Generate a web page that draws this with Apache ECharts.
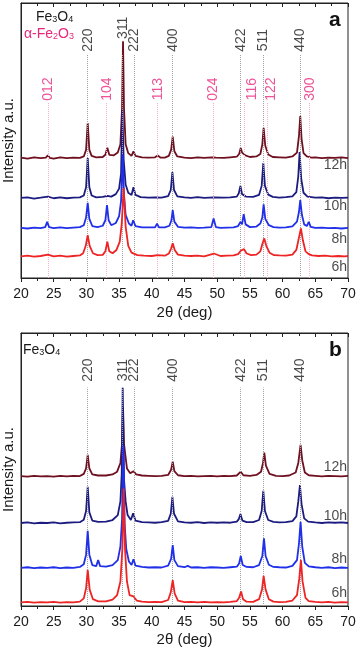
<!DOCTYPE html>
<html>
<head>
<meta charset="utf-8">
<script src="https://cdn.jsdelivr.net/npm/echarts@6/dist/echarts.min.js"></script>
<style>
html,body{margin:0;padding:0;background:#fff;}
#chart{width:358px;height:651px;}
</style>
</head>
<body>
<div id="chart"></div>
<script>
// ---------- DATA ----------
const times = ['12h', '10h', '8h', '6h'];
const xTicks = [20, 25, 30, 35, 40, 45, 50, 55, 60, 65, 70];

const fe3o4Hkl = ['220', '311', '222', '400', '422', '511', '440'];
const fe3o4Pos = [30.2, 35.55, 37.25, 43.2, 53.6, 57.05, 62.75];
const hematiteHkl = ['012', '104', '113', '024', '116', '122', '300'];
const hematitePos = [24.2, 33.1, 40.9, 49.4, 54.1, 57.6, 64.1];
const hematiteLabelPos = [24.2, 33.1, 41.0, 49.4, 55.3, 58.2, 64.2];

// panel (a): vertical offsets of each pattern (a.u.)
const offsetsA = [43.6, 29, 18, 7.7];
// panel (b)
const offsetsB = [47.4, 30.3, 13.8, 1.0];

// panel (a) patterns [2theta, intensity]
const a12h = [[20,0.2],[21,-0.2],[22,0.3],[23,0],[23.8,0.2],[24.1,1.0],[24.4,0.1],[25,-0.2],[26,0.3],[27,0],[28,0.2],[29,0.1],[29.6,0.6],[29.95,3],[30.2,12.7],[30.45,3],[30.8,0.8],[31.5,0.3],[32.5,0.4],[32.9,1.2],[33.2,3.8],[33.5,1.2],[34.2,1.0],[34.8,2],[35.2,5],[35.45,18],[35.6,42.5],[35.75,18],[36.0,5],[36.4,1.8],[36.9,0.8],[37.2,2.5],[37.5,0.8],[38.5,0.3],[39.5,0.2],[40.5,0.3],[40.9,1.0],[41.3,0.2],[42,0.2],[42.6,0.8],[42.95,3],[43.2,7.8],[43.45,2.5],[43.9,0.6],[45,0.2],[46,0],[47,0.3],[48,0.1],[49.2,0.3],[49.5,1.0],[49.8,0.2],[51,0.1],[52,0.3],[53,0.5],[53.35,1.5],[53.6,3.7],[53.8,2],[54.0,2.5],[54.3,1],[55,0.4],[56,0.6],[56.6,1.5],[56.9,5],[57.1,11],[57.35,4.5],[57.8,1.3],[58.5,0.4],[59.5,0.3],[60.5,0.2],[61.5,0.6],[62.2,2],[62.5,8],[62.7,15.3],[62.9,7],[63.2,1.8],[63.7,0.6],[64.0,1],[64.4,0.2],[65,0.3],[66,0],[67,0.2],[68,0.1],[69,0.3],[70,0]];
const a10h = [[20,0.1],[21,0.3],[22,-0.1],[23,0.2],[24.1,0.6],[25,0],[26,0.3],[27,0],[28,0.2],[29,0.3],[29.6,1],[29.95,4],[30.2,14.6],[30.45,4],[30.8,1],[31.5,0.3],[32.5,0.5],[33.2,0.9],[33.8,0.6],[34.5,1.5],[35.0,3.5],[35.3,9],[35.5,32],[35.7,14],[36.0,5],[36.4,2],[36.9,1.2],[37.2,4],[37.5,1.2],[38.3,0.4],[39.5,0.2],[40.5,0.3],[41.5,0.2],[42.5,0.8],[42.9,3],[43.15,9.5],[43.4,3],[43.9,0.7],[45,0.3],[46,0.1],[47,0.4],[48,0.1],[49.5,0.3],[51,0.2],[52,0.3],[53,0.6],[53.3,1.8],[53.55,4.5],[53.8,1.5],[54.4,0.6],[55.5,0.5],[56.4,1.2],[56.8,4.5],[57.05,12.8],[57.3,4.5],[57.8,1.3],[58.5,0.5],[59.5,0.2],[60.5,0.4],[61.5,0.7],[62.1,2.2],[62.4,8],[62.6,16.8],[62.85,7],[63.2,2],[63.8,0.6],[65,0.2],[66,0.3],[67,0],[68,0.2],[69,0.1],[70,0.2]];
const a8h = [[20,0.2],[21,0],[22,0.3],[23,0.1],[23.7,0.5],[24.0,2.4],[24.3,0.5],[25,0.1],[26,0.4],[27,0.1],[28,0.3],[29,0.5],[29.6,1.2],[29.95,4],[30.2,9.3],[30.45,3.5],[30.9,0.9],[31.7,0.5],[32.5,1],[32.9,3],[33.15,8.5],[33.4,3],[33.8,1.2],[34.5,2],[35.0,4.5],[35.3,10],[35.55,27],[35.75,12],[36.0,5],[36.5,1.8],[36.9,1],[37.15,3],[37.5,0.9],[38.5,0.4],[39.5,0.4],[40.5,0.4],[40.8,1.8],[41.1,0.4],[42,0.4],[42.7,1],[43.0,3],[43.2,6.7],[43.45,2.5],[44,0.6],[45,0.3],[46,0.4],[47,0.2],[48,0.3],[49.1,0.5],[49.45,3.6],[49.8,0.5],[50.5,0.2],[51.5,0.3],[52.5,0.4],[53.2,0.9],[53.55,2.4],[53.8,1.5],[54.05,5.2],[54.35,1.5],[55,0.5],[56,0.7],[56.6,1.8],[56.9,4],[57.1,8.8],[57.35,3.5],[57.9,1.2],[58.6,0.5],[59.5,0.3],[60.5,0.4],[61.5,0.8],[62.2,2.5],[62.5,6],[62.7,10.3],[62.95,5],[63.3,1.5],[63.7,0.9],[64.0,2.4],[64.3,0.6],[65,0.2],[66,0.3],[67,0.1],[68,0.2],[69,0],[70,0.2]];
const a6h = [[20,0.2],[21,0.4],[22,0.1],[23,0.3],[24.1,0.8],[25,0.2],[26,0.4],[27,0.1],[28,0.3],[29,0.5],[29.5,1.3],[29.9,4],[30.2,7.9],[30.5,4],[31,1.3],[31.7,0.6],[32.5,0.7],[32.9,2],[33.2,5.5],[33.5,2],[34,1.3],[34.6,2.5],[35.1,5.5],[35.4,12],[35.7,25],[36.0,11],[36.4,4],[36.9,1.5],[37.2,1.2],[37.8,0.6],[38.8,0.4],[40,0.3],[40.9,0.6],[42,0.4],[42.6,1.2],[42.95,3],[43.2,4.9],[43.5,2.5],[44,0.8],[45,0.4],[46,0.3],[47,0.4],[48,0.2],[49.5,1.2],[50.5,0.3],[51.5,0.4],[52.5,0.5],[53.2,1],[53.6,2.2],[53.9,2],[54.1,2.8],[54.5,1.2],[55.2,0.6],[56,0.8],[56.6,2],[56.95,5],[57.2,6.7],[57.5,4],[58,1.5],[58.7,0.6],[59.5,0.5],[60.5,0.4],[61.5,0.8],[62.1,2.5],[62.5,7],[62.8,10.3],[63.1,6],[63.5,2],[64.0,1],[64.5,0.5],[65.5,0.3],[66.5,0.4],[67.5,0.2],[68.5,0.3],[69.5,0.2],[70,0.3]];

// panel (b) patterns
const b12h = [[20,0.2],[21,0],[22,0.3],[23,0.1],[24,0.2],[25,0],[26,0.3],[27,0.1],[28,0.3],[29,0.2],[29.6,1],[29.95,3],[30.2,8],[30.45,3],[30.9,0.8],[31.8,0.4],[33,0.4],[34,0.8],[34.7,1.8],[35.2,5],[35.45,12],[35.6,25.5],[35.75,12],[35.95,8],[36.2,3],[36.7,1.2],[37.2,2],[37.6,0.8],[38.5,0.4],[39.5,0.3],[40.5,0.2],[41.5,0.3],[42.5,0.6],[42.95,2.5],[43.2,5.5],[43.45,2],[44,0.5],[45,0.2],[46,0.3],[47,0.1],[48,0.2],[49,0.3],[50,0.1],[51,0.3],[52,0.2],[53,0.4],[53.6,1.8],[54,0.5],[55,0.3],[56,0.6],[56.7,1.8],[57.0,5],[57.2,8.8],[57.45,4],[58,1],[59,0.3],[60,0.2],[61,0.4],[62,1.5],[62.4,5],[62.75,11.6],[63.0,6],[63.4,1.5],[64,0.5],[65,0.3],[66,0.1],[67,0.3],[68,0.2],[69,0.1],[70,0.3]];
const b10h = [[20,0.1],[21,0.3],[22,0],[23,0.2],[24,0.1],[25,0.3],[26,0],[27,0.2],[28,0.3],[29,0.4],[29.6,1.3],[29.95,4.5],[30.2,13.4],[30.45,4],[30.9,1],[31.8,0.5],[33,0.6],[34,1.2],[34.8,3],[35.2,8],[35.4,18],[35.55,49.6],[35.75,16],[36.0,8],[36.3,3],[36.8,1.2],[37.15,3.7],[37.5,1],[38.5,0.4],[39.5,0.3],[40.5,0.2],[41.5,0.4],[42.5,0.9],[42.9,3.5],[43.15,9.7],[43.4,3.5],[44,0.7],[45,0.3],[46,0.2],[47,0.4],[48,0.1],[49,0.3],[50,0.2],[51,0.3],[52,0.2],[53,0.6],[53.3,1.5],[53.55,3.4],[53.85,1],[54.5,0.4],[55.5,0.4],[56.4,1.2],[56.8,4.5],[57.05,11.9],[57.3,4.5],[57.8,1.2],[58.6,0.5],[59.5,0.3],[60.5,0.4],[61.5,0.8],[62.1,2.5],[62.4,8],[62.65,14],[62.9,7],[63.3,1.8],[63.9,0.6],[65,0.3],[66,0.1],[67,0.3],[68,0.2],[69,0.3],[70,0.1]];
const b8h = [[20,0.2],[21,0.4],[22,0.1],[23,0.3],[24,0.2],[25,0.4],[26,0.1],[27,0.3],[28,0.2],[29,0.5],[29.6,1.5],[29.95,5],[30.2,13.7],[30.45,5],[30.9,1.2],[31.5,0.8],[31.8,3],[32.1,0.8],[33,0.6],[34,1.2],[34.8,3],[35.2,8],[35.45,18],[35.65,45],[35.85,16],[36.1,7],[36.5,2.5],[36.9,1.2],[37.2,3.3],[37.5,1],[38.5,0.5],[39.5,0.3],[40.5,0.4],[41.5,0.3],[42.5,1],[42.95,3.5],[43.2,8.5],[43.45,3],[44,0.8],[45,0.4],[45.5,0.9],[46,0.3],[47,0.4],[48,0.2],[49,0.4],[50,0.3],[51,0.2],[52,0.4],[53,0.6],[53.35,1.8],[53.6,4.5],[53.9,1.2],[54.5,0.5],[55.5,0.4],[56.4,1.2],[56.9,4.5],[57.15,11],[57.4,4.5],[57.9,1.3],[58.6,0.5],[59.5,0.4],[60.5,0.3],[61.5,0.9],[62.2,3],[62.5,9],[62.75,17],[63.0,8],[63.4,2],[64,0.7],[65,0.4],[66,0.2],[67,0.4],[68,0.1],[69,0.3],[70,0.2]];
const b6h = [[20,0.3],[21,0.5],[22,0.2],[23,0.4],[24,0.3],[25,0.5],[26,0.2],[27,0.4],[28,0.3],[29,0.6],[29.6,1.8],[29.95,5.5],[30.2,12.2],[30.5,5],[31,1.5],[31.8,0.7],[33,0.7],[34,1.3],[34.7,3],[35.2,8],[35.5,20],[35.7,42],[35.9,20],[36.2,8],[36.6,3],[37.2,2.5],[37.7,1],[38.5,0.6],[39.5,0.4],[40.5,0.5],[41.5,0.4],[42.5,1.2],[42.9,4],[43.2,8.5],[43.5,3.5],[44,1],[45,0.4],[46,0.5],[47,0.3],[48,0.5],[49,0.3],[50,0.4],[51,0.3],[52,0.5],[53,0.8],[53.35,2],[53.65,4.3],[53.95,1.5],[54.5,0.6],[55.5,0.5],[56.4,1.5],[56.85,5],[57.1,10],[57.4,5],[57.9,1.5],[58.6,0.6],[59.5,0.4],[60.5,0.5],[61.5,1],[62.2,3],[62.55,9],[62.8,15.9],[63.05,8],[63.5,2],[64,0.8],[65,0.5],[66,0.3],[67,0.5],[68,0.2],[69,0.4],[70,0.3]];

// ---------- LAYOUT / STYLE ----------
const colors = ['#6e1020', '#1c1c80', '#1f30e8', '#ee2424'];
const FONT = '"Liberation Sans", Arial, sans-serif';
const layout = {
  a: { top: 3, height: 275, timeLabelY: [41, 26, 14.2, 3.8], blackLabelY: 86.5, blackLabelY311: 91, blackLineTop: 81.5, pinkLabelY: 68.7, pinkLineTop: 63.6 },
  b: { top: 333, height: 273, timeLabelY: [51, 33, 17, 4.6], blackLabelY: 86.4, blackLineTop: 80 }
};

const chart = echarts.init(document.getElementById('chart'), null, { renderer: 'canvas' });

function xAxes(gi, nameGap) {
  return [
    {
      type: 'value', gridIndex: gi, min: 20, max: 70, interval: 5, position: 'bottom',
      name: '2θ (deg)', nameLocation: 'middle', nameGap: nameGap,
      nameTextStyle: { fontFamily: FONT, fontSize: 15, color: '#1a1a1a' },
      axisLine: { show: true, lineStyle: { color: '#222', width: 1 } },
      axisTick: { show: true, inside: false, length: 4, lineStyle: { color: '#222' } },
      minorTick: { show: true, splitNumber: 2, length: 3, lineStyle: { color: '#222' } },
      axisLabel: { show: true, margin: 9, fontFamily: FONT, fontSize: 14, color: '#1a1a1a',
        formatter: v => xTicks.includes(v) ? String(v) : '' },
      splitLine: { show: false }
    },
    {
      type: 'value', gridIndex: gi, min: 20, max: 70, interval: 5, position: 'top',
      axisLine: { show: true, lineStyle: { color: '#222', width: 1 } },
      axisTick: { show: true, inside: true, length: 4, lineStyle: { color: '#222' } },
      minorTick: { show: true, splitNumber: 2, length: 3, lineStyle: { color: '#222' } },
      axisLabel: { show: false },
      splitLine: { show: false }
    }
  ];
}
function yAxis(gi) {
  return {
    type: 'value', gridIndex: gi, min: 0, max: 100,
    name: 'Intensity a.u.', nameLocation: 'middle', nameGap: 5,
    nameTextStyle: { fontFamily: FONT, fontSize: 15, color: '#1a1a1a' },
    axisLine: { show: true, lineStyle: { color: '#222', width: 1 } },
    axisTick: { show: false }, axisLabel: { show: false }, splitLine: { show: false }
  };
}

const series = [];
function addPatterns(patterns, offsets, xi, yi) {
  patterns.forEach((pts, i) => {
    series.push({
      type: 'line', name: times[i], xAxisIndex: xi, yAxisIndex: yi,
      data: pts.map(p => [p[0], p[1] + offsets[i]]),
      showSymbol: false, symbol: 'none', z: 3 + i,
      lineStyle: { color: colors[i], width: 1.8 }, animation: false, silent: true
    });
  });
}
function addRefs(pos, hkl, labelPos, labelYs, lineTop, color, lineColor, xi, yi) {
  series.push({
    type: 'scatter', xAxisIndex: xi, yAxisIndex: yi, symbolSize: 0, z: 1, silent: true, animation: false,
    data: hkl.map((h, k) => ({ value: [labelPos[k], labelYs[k]], name: h })),
    label: { show: true, position: 'inside', rotate: 90, formatter: p => p.name,
      fontFamily: FONT, fontSize: 14, color: color },
    markLine: {
      silent: true, symbol: ['none', 'none'], animation: false,
      label: { show: false },
      lineStyle: { type: 'dotted', color: lineColor, width: 1 },
      data: pos.map(p => [{ coord: [p, 0] }, { coord: [p, lineTop] }])
    }
  });
}
function addTimeLabels(ys, xi, yi) {
  series.push({
    type: 'scatter', xAxisIndex: xi, yAxisIndex: yi, symbolSize: 0, z: 10, silent: true, animation: false,
    data: times.map((t, i) => ({ value: [69.85, ys[i]], name: t })),
    label: { show: true, position: 'left', distance: 0, formatter: p => p.name,
      fontFamily: FONT, fontSize: 14, color: '#1a1a1a' }
  });
}

// panel a
addRefs(fe3o4Pos, fe3o4Hkl, fe3o4Pos,
  fe3o4Hkl.map(h => h === '311' ? layout.a.blackLabelY311 : layout.a.blackLabelY),
  layout.a.blackLineTop, '#1a1a1a', '#a0a0a0', 0, 0);
addRefs(hematitePos, hematiteHkl, hematiteLabelPos,
  hematiteHkl.map(() => layout.a.pinkLabelY),
  layout.a.pinkLineTop, '#e8287c', '#f4b0cc', 0, 0);
addPatterns([a12h, a10h, a8h, a6h], offsetsA, 0, 0);
addTimeLabels(layout.a.timeLabelY, 0, 0);

// panel b
addRefs(fe3o4Pos, fe3o4Hkl, fe3o4Pos,
  fe3o4Hkl.map(() => layout.b.blackLabelY),
  layout.b.blackLineTop, '#1a1a1a', '#a0a0a0', 2, 1);
addPatterns([b12h, b10h, b8h, b6h], offsetsB, 2, 1);
addTimeLabels(layout.b.timeLabelY, 2, 1);

const sub = { fontFamily: FONT, fontSize: 9, padding: [6, 0, 0, 0] };
chart.setOption({
  backgroundColor: '#fff',
  animation: false,
  grid: [
    { left: 21, right: 10, top: layout.a.top, height: layout.a.height, show: true, borderColor: '#222', borderWidth: 1, outerBoundsMode: 'none', containLabel: false },
    { left: 21, right: 10, top: layout.b.top, height: layout.b.height, show: true, borderColor: '#222', borderWidth: 1, outerBoundsMode: 'none', containLabel: false }
  ],
  xAxis: [...xAxes(0, 27), ...xAxes(1, 26)],
  yAxis: [yAxis(0), yAxis(1)],
  series: series,
  graphic: [
    { type: 'text', left: 36, top: 10, silent: true, style: {
      text: '{m|Fe}{s|3}{m|O}{s|4}', fill: '#1a1a1a',
      rich: { m: { fontFamily: FONT, fontSize: 14, fill: '#1a1a1a' }, s: Object.assign({}, sub, { fill: '#1a1a1a' }) } } },
    { type: 'text', left: 24, top: 27, silent: true, style: {
      text: '{m|α-Fe}{s|2}{m|O}{s|3}', fill: '#e8287c',
      rich: { m: { fontFamily: FONT, fontSize: 14, fill: '#e8287c' }, s: Object.assign({}, sub, { fill: '#e8287c' }) } } },
    { type: 'text', left: 329, top: 10, silent: true, style: {
      text: 'a', fill: '#111', font: 'bold 21px ' + FONT } },
    { type: 'text', left: 23, top: 343, silent: true, style: {
      text: '{m|Fe}{s|3}{m|O}{s|4}', fill: '#1a1a1a',
      rich: { m: { fontFamily: FONT, fontSize: 14, fill: '#1a1a1a' }, s: Object.assign({}, sub, { fill: '#1a1a1a' }) } } },
    { type: 'text', left: 329, top: 340, silent: true, style: {
      text: 'b', fill: '#111', font: 'bold 21px ' + FONT } }
  ]
});
</script>
</body>
</html>
